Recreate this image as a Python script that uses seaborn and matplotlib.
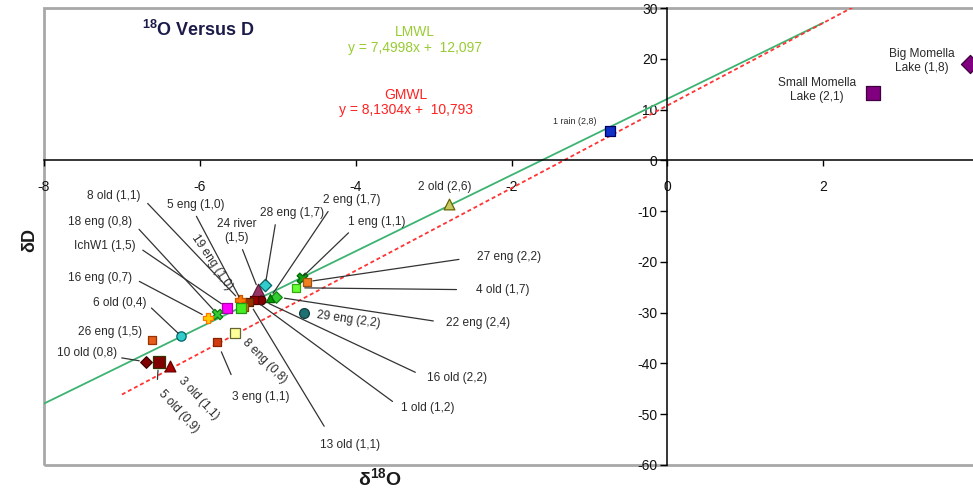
import matplotlib
matplotlib.use("Agg")
import numpy as np
import pandas as pd
import seaborn as sns
import matplotlib.pyplot as plt
from matplotlib.patches import Rectangle

# ---------------- data ----------------
sample_names = [
    "1 rain (2,8)", "Small Momella\nLake (2,1)", "Big Momella\nLake (1,8)", "2 old (2,6)",
    "29 eng (2,2)", "1 eng (1,1)", "27 eng (2,2)", "4 old (1,7)", "28 eng (1,7)",
    "24 river\n(1,5)", "22 eng (2,4)", "2 eng (1,7)", "16 old (2,2)", "1 old (1,2)",
    "13 old (1,1)", "5 eng (1,0)", "8 old (1,1)", "19 eng (1,0)", "IchW1 (1,5)",
    "18 eng (0,8)", "16 eng (0,7)", "6 old (0,4)", "26 eng (1,5)", "10 old (0,8)",
    "5 old (0,9)", "3 old (1,1)", "3 eng (1,1)", "8 eng (0,8)",
]
d18O = [-0.74, 2.64, 3.88, -2.80, -4.66, -4.69, -4.62, -4.76, -5.16, -5.25, -5.02,
        -5.10, -5.21, -5.30, -5.37, -5.43, -5.49, -5.47, -5.65, -5.78, -5.89, -6.24,
        -6.62, -6.69, -6.53, -6.38, -5.78, -5.55]
dD = [5.8, 13.3, 19.0, -8.6, -30.0, -23.1, -23.9, -25.1, -24.5, -25.5, -26.9,
      -27.1, -27.5, -27.5, -27.9, -28.8, -27.5, -29.0, -29.0, -30.2, -31.0, -34.6,
      -35.3, -39.7, -39.7, -40.5, -35.7, -34.0]

lmwl_slope, lmwl_intercept = 7.4998, 12.097
gmwl_slope, gmwl_intercept = 8.1304, 10.793
lmwl_range = [-8, 2]
gmwl_range = [-7, 3]

x_ticks = [-8, -6, -4, -2, 0, 2]
y_ticks = [30, 20, 10, 0, -10, -20, -30, -40, -50, -60]

# ---------------- styles ----------------
marker_shapes = ["s", "s", "D", "^", "o", "X", "s", "s", "D", "^", "D", "^", "o", "s",
                 "s", "s", "P", "s", "s", "X", "P", "o", "s", "D", "s", "^", "s", "s"]
face_colors = ["#1030C8", "#800080", "#800080", "#C8C864", "#1F7070", "#11A011",
               "#F08020", "#66FF33", "#33CCCC", "#993366", "#33CC33", "#009900",
               "#800000", "#990000", "#993300", "#FF6600", "#FF7700", "#44EE22",
               "#FF00FF", "#33CC33", "#FFCC00", "#33CCCC", "#E65C1A", "#800000",
               "#800000", "#AA0000", "#D03A10", "#FFFF99"]
edge_colors = ["#000060", "#400040", "#400040", "#666600", "#0F4040", "#006600",
               "#A05010", "#33AA11", "#006666", "#5A1E3C", "#118811", "#006600",
               "#400000", "#550000", "#552200", "#993300", "#CC5500", "#229911",
               "#AA00AA", "#117711", "#FF7700", "#006666", "#993300", "#400000",
               "#333300", "#660000", "#882200", "#666633"]
marker_sizes = [55, 95, 85, 60, 50, 60, 30, 40, 40, 80, 35, 35, 40, 40, 40, 40, 60,
                45, 55, 55, 55, 45, 40, 35, 85, 60, 40, 50]

LS = 8.6  # label font size
# label layout: name -> (dx px, dy px, ha, va, rotation, relpos, shrinkA, shrinkB, size)
label_layout = {
    "1 rain (2,8)": (-35, 9, "center", "center", 0, None, 0, 0, 6.4),
    "Small Momella\nLake (2,1)": (-56, 3, "center", "center", 0, None, 0, 0, LS),
    "Big Momella\nLake (1,8)": (-48, 3, "center", "center", 0, None, 0, 0, LS),
    "2 old (2,6)": (-4, 17, "center", "center", 0, None, 0, 0, LS),
    "29 eng (2,2)": (44, -7, "center", "center", -8, None, 0, 0, LS),
    "1 eng (1,1)": (75, 56, "center", "center", 0, (0.1, 0.0), 2, 2, LS),
    "27 eng (2,2)": (170, 25, "left", "center", 0, (0.0, 0.5), 11, 4, LS),
    "4 old (1,7)": (180, -2, "left", "center", 0, (0.0, 0.5), 12, 6, LS),
    "28 eng (1,7)": (27, 72, "center", "center", 0, (0.25, 0.0), 2, 3, LS),
    "24 river\n(1,5)": (-22, 59, "center", "center", 0, (0.6, 0.0), 2, 4, LS),
    "22 eng (2,4)": (170, -26, "left", "center", 0, (0.0, 0.5), 7, 6, LS),
    "2 eng (1,7)": (82, 98, "center", "center", 0, (0.15, 0.0), 2, 4, LS),
    "16 old (2,2)": (166, -78, "left", "center", 0, (0.0, 0.5), 7, 6, LS),
    "1 old (1,2)": (147, -108, "left", "center", 0, (0.0, 0.5), 5, 6, LS),
    "13 old (1,1)": (101, -143, "center", "center", 0, (0.2, 1.0), 8, 6, LS),
    "5 eng (1,0)": (-48, 102, "center", "center", 0, (0.45, 0.0), 2, 8, LS),
    "8 old (1,1)": (-99, 104, "right", "center", 0, (1.0, 0.5), 4, 4, LS),
    "19 eng (1,0)": (-29, 45, "center", "center", -56, None, 0, 0, LS),
    "IchW1 (1,5)": (-91, 62, "right", "center", 0, (1.0, 0.5), 3, 5, LS),
    "18 eng (0,8)": (-85, 92, "right", "center", 0, (1.0, 0.5), 4, 4, LS),
    "16 eng (0,7)": (-76, 40, "right", "center", 0, (1.0, 0.5), 3, 5, LS),
    "6 old (0,4)": (-35, 33, "right", "center", 0, (1.0, 0.5), 2, 3, LS),
    "26 eng (1,5)": (-9, 8, "right", "center", 0, None, 0, 0, LS),
    "10 old (0,8)": (-29, 9, "right", "center", 0, (1.0, 0.15), 1, 5, LS),
    "5 old (0,9)": (20, -50, "center", "center", -47, (0.02, 0.98), 4, 6, LS),
    "3 old (1,1)": (28, -32, "center", "center", -47, None, 0, 0, LS),
    "3 eng (1,1)": (44, -55, "center", "center", 0, (0.1, 1.0), 10, 8, LS),
    "8 eng (0,8)": (30, -28, "center", "center", -45, None, 0, 0, LS),
}

# ---------------- figure ----------------
sns.set_theme(style="white")
plt.rcParams["font.family"] = ["Liberation Sans", "DejaVu Sans"]
plt.rcParams["mathtext.fontset"] = "custom"
plt.rcParams["mathtext.rm"] = "Liberation Sans"
plt.rcParams["mathtext.bf"] = "Liberation Sans:bold"
plt.rcParams["mathtext.it"] = "Liberation Sans:italic"

W, H = 973, 491
fig = plt.figure(figsize=(W / 100, H / 100), dpi=100)
fig.patch.set_facecolor("white")
ax = fig.add_axes([44 / W, 1 - 465 / H, 935 / W, (465 - 8) / H])
ax.set_xlim(-8, 4)
ax.set_ylim(-60, 30)

df = pd.DataFrame({"sample": sample_names, "d18O": d18O, "dD": dD})

# meteoric water lines
xl = np.array(lmwl_range, dtype=float)
sns.lineplot(x=xl, y=lmwl_slope * xl + lmwl_intercept, color="#3CB371", lw=1.3,
             ax=ax, zorder=2)
xg = np.array(gmwl_range, dtype=float)
sns.lineplot(x=xg, y=gmwl_slope * xg + gmwl_intercept, color="#FF3333", lw=1.3,
             ax=ax, zorder=2, dashes=False)
ax.lines[-1].set_dashes([2.2, 1.6])

# points
for i, row in df.iterrows():
    sns.scatterplot(x=[row["d18O"]], y=[row["dD"]], marker=marker_shapes[i],
                    s=marker_sizes[i], color=face_colors[i], edgecolor=edge_colors[i],
                    linewidth=0.9, ax=ax, zorder=4, legend=False)

# labels
for i, row in df.iterrows():
    dx, dy, ha, va, rot, relpos, sa, sb, fs = label_layout[row["sample"]]
    kw = dict(xy=(row["d18O"], row["dD"]), xytext=(dx, dy), textcoords="offset pixels",
              ha=ha, va=va, rotation=rot, fontsize=fs, color="#2a2a2a",
              multialignment="center", zorder=5)
    if relpos is not None:
        kw["arrowprops"] = dict(arrowstyle="-", color="#333333", lw=0.9,
                                shrinkA=sa, shrinkB=sb, relpos=relpos)
    ax.annotate(row["sample"], **kw)

# axes styling: axes through the origin, grey frame around the plot area
for side in ["top", "right"]:
    ax.spines[side].set_visible(False)
ax.spines["left"].set_position(("data", 0))
ax.spines["bottom"].set_position(("data", 0))
ax.spines["left"].set_color("black")
ax.spines["bottom"].set_color("black")
ax.spines["left"].set_linewidth(1.1)
ax.spines["bottom"].set_linewidth(1.1)
ax.add_patch(Rectangle((0, 0), 1, 1, transform=ax.transAxes, fill=False,
                       edgecolor="#A8A8A8", lw=2.0, clip_on=False, zorder=0))

ax.set_xticks(x_ticks)
ax.set_yticks(y_ticks)
ax.set_xticklabels([str(t) for t in x_ticks])
ax.set_yticklabels([str(t) for t in y_ticks])
ax.tick_params(axis="x", bottom=True, direction="out", length=4, width=1,
               pad=10, labelsize=10, labelcolor="#111111", color="black")
ax.tick_params(axis="y", left=True, direction="out", length=5, width=1,
               pad=2, labelsize=10, labelcolor="#111111", color="black")
ax.set_xlabel("")
ax.set_ylabel("")
ax.grid(False)


def fpx(x, y):
    return x / W, 1 - y / H


fig.text(*fpx(198, 30), r"$^{\mathbf{18}}$O Versus D", ha="center", va="center",
         fontsize=13, fontweight="bold", color="#1b1b4a")
fig.text(*fpx(415, 32), "LMWL", ha="center", va="center", fontsize=10, color="#99CC33")
fig.text(*fpx(415, 48), "y = 7,4998x +  12,097", ha="center", va="center",
         fontsize=10, color="#99CC33")
fig.text(*fpx(406, 95), "GMWL", ha="center", va="center", fontsize=10, color="#FF2222")
fig.text(*fpx(406, 110), "y = 8,1304x +  10,793", ha="center", va="center",
         fontsize=10, color="#FF2222")
fig.text(*fpx(30, 240), "δD", rotation=90, ha="center", va="center",
         fontsize=13, fontweight="bold", color="#1a1a1a")
fig.text(*fpx(380, 478), r"δ$^{\mathbf{18}}$O", ha="center", va="center",
         fontsize=14, fontweight="bold", color="#1a1a1a")

fig.savefig("out.png", dpi=100, facecolor="white")
